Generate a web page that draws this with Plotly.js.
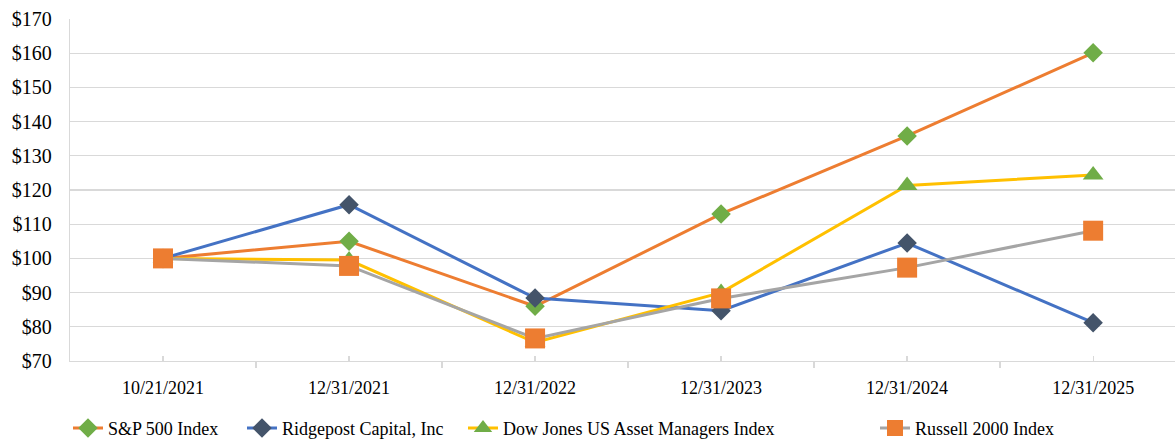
<!DOCTYPE html>
<html>
<head>
<meta charset="utf-8">
<script src="https://cdn.plot.ly/plotly-3.0.1.min.js"></script>
<style>
html,body{margin:0;padding:0;background:#fff;overflow:hidden;}
#chart{width:1175px;height:439px;}
</style>
</head>
<body>
<div id="chart"></div>
<script>
var dates = ["10/21/2021", "12/31/2021", "12/31/2022", "12/31/2023", "12/31/2024", "12/31/2025"];
var sp500 = [100, 105.0, 86.0, 113.0, 135.8, 160.1];
var ridgepost = [100, 115.7, 88.4, 84.7, 104.5, 81.2];
var dowJonesAM = [100, 99.5, 75.4, 90.0, 121.3, 124.4];
var russell2000 = [100, 97.8, 76.6, 88.3, 97.3, 108.1];
var yTicks = [70, 80, 90, 100, 110, 120, 130, 140, 150, 160, 170];
var yTickText = yTicks.map(function(v){ return "$" + v; });

var xIdx = dates.map(function(d, i){ return i; });
var FONT = "Liberation Serif, Times New Roman, serif";

var traces = [
  {name: "S&P 500 Index", x: xIdx, y: sp500, mode: "lines+markers", legend: "legend",
   line: {color: "#ED7D31", width: 3},
   marker: {symbol: "diamond", size: 15, color: "#70AD47"}},
  {name: "Ridgepost Capital, Inc", x: xIdx, y: ridgepost, mode: "lines+markers", legend: "legend2",
   line: {color: "#4472C4", width: 3},
   marker: {symbol: "diamond", size: 15, color: "#44546A"}},
  {name: "Dow Jones US Asset Managers Index", x: xIdx, y: dowJonesAM, mode: "lines+markers", legend: "legend3",
   line: {color: "#FFC000", width: 3},
   marker: {symbol: "triangle-up", size: 18, color: "#70AD47"}},
  {name: "Russell 2000 Index", x: xIdx, y: russell2000, mode: "lines+markers", legend: "legend4",
   line: {color: "#A5A5A5", width: 3},
   marker: {symbol: "square", size: 20, color: "#ED7D31"}}
];

function leg(xpx) {
  return {orientation: "h", x: (xpx - 70) / 1105, xanchor: "left", y: -0.197, yanchor: "middle",
          font: {family: FONT, size: 18, color: "#000"}, itemwidth: 30,
          bgcolor: "rgba(0,0,0,0)"};
}

var layout = {
  width: 1175, height: 439,
  margin: {l: 70, r: 0, t: 19, b: 78, autoexpand: false},
  paper_bgcolor: "#fff", plot_bgcolor: "#fff",
  font: {family: FONT, size: 18, color: "#000"},
  showlegend: true,
  legend: leg(68),
  legend2: leg(242),
  legend3: leg(463),
  legend4: leg(875),
  xaxis: {
    range: [-0.5, 5.44], tickmode: "array", tickvals: xIdx, ticktext: dates,
    showgrid: false, zeroline: false, showline: true, linecolor: "#d9d9d9", linewidth: 1.3,
    ticks: "inside", ticklen: 5, tickcolor: "#d9d9d9", tickwidth: 1.3,
    ticklabelstandoff: 10,
    tickfont: {family: FONT, size: 18, color: "#000"},
    minor: {tickmode: "linear", tick0: -0.5, dtick: 1, ticks: "outside", ticklen: 6,
            tickcolor: "#d9d9d9", tickwidth: 1.3, showgrid: false},
    fixedrange: true
  },
  yaxis: {
    range: [70, 170], tickmode: "array", tickvals: yTicks, ticktext: yTickText,
    showgrid: true, gridcolor: "#d9d9d9", gridwidth: 1.3, zeroline: false,
    showline: true, linecolor: "#d9d9d9", linewidth: 1.3, ticks: "",
    ticklabelstandoff: 13,
    tickfont: {family: FONT, size: 20, color: "#000"},
    fixedrange: true
  }
};

Plotly.newPlot("chart", traces, layout, {displayModeBar: false, staticPlot: true});
</script>
</body>
</html>
